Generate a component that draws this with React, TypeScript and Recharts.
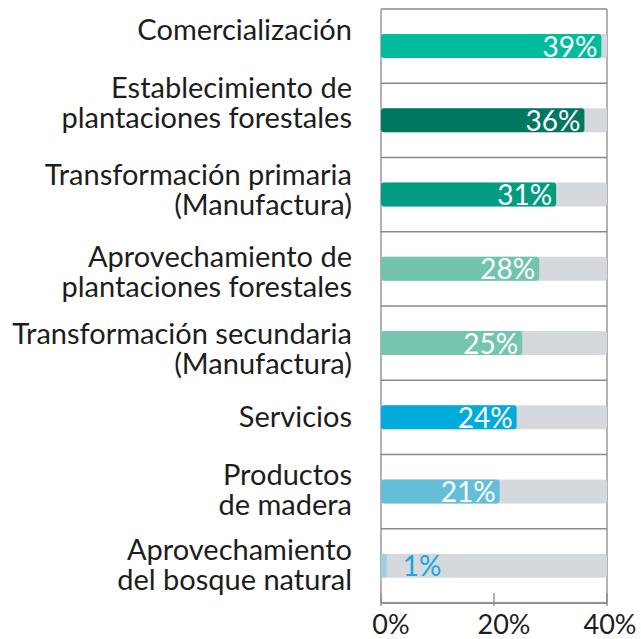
import React from 'react'
import { BarChart, Bar, XAxis, YAxis, CartesianGrid, Cell, LabelList } from 'recharts'

const CATEGORIES = [
  'Comercialización',
  'Establecimiento de\nplantaciones forestales',
  'Transformación primaria\n(Manufactura)',
  'Aprovechamiento de\nplantaciones forestales',
  'Transformación secundaria\n(Manufactura)',
  'Servicios',
  'Productos\nde madera',
  'Aprovechamiento\ndel bosque natural',
]
const SHARES = [39, 36, 31, 28, 25, 24, 21, 1]
const X_TICKS = [0, 20, 40]

const BAR_COLORS = ['#00BC9C', '#00775F', '#009C82', '#72C4AF', '#74C4AE', '#00AADB', '#64BEDA', '#9AD1E4']
// the labels in the original sit a little off the bar centres
const LABEL_NUDGE = [-16, -17, -5, 3, 6, 0, -2, -1]
const X_TICK_NUDGE = [10, 10, 3]

const GRID = '#8A8696'
const TEXT = '#1d1d1b'
const FONT = 'Lato, sans-serif'

const data = CATEGORIES.map((name, i) => ({ name, share: SHARES[i] }))

function CategoryTick(props: any) {
  const { x, y, payload, index } = props
  const lines = String(payload.value).split('\n')
  const mid = y + LABEL_NUDGE[index]
  return (
    <text textAnchor="end" fontSize={29} fill={TEXT} fontFamily={FONT}>
      {lines.map((line, i) => (
        <tspan key={i} x={x - 29} y={mid + (i - (lines.length - 1) / 2) * 30 + 10}>
          {line}
        </tspan>
      ))}
    </text>
  )
}

function PercentTick(props: any) {
  const { x, y, payload, index } = props
  return (
    <g>
      <line x1={x} x2={x} y1={y - 10} y2={y + 3} stroke={GRID} strokeWidth={1.3} />
      <text x={x + X_TICK_NUDGE[index]} y={y + 31} textAnchor="middle" fontSize={27} fill={TEXT} fontFamily={FONT}>
        {payload.value}%
      </text>
    </g>
  )
}

function ValueLabel(props: any) {
  const vb = props.viewBox ?? props
  const x = vb.x ?? props.x
  const y = vb.y ?? props.y
  const width = vb.width ?? props.width
  const height = vb.height ?? props.height
  const value = props.value
  const cy = y + height / 2 + 10.5
  if (value < 5) {
    return (
      <text x={x + width + 16} y={cy} fontSize={28} fill="#1AA7DA" fontFamily={FONT}>
        {value}%
      </text>
    )
  }
  return (
    <text x={x + width - 4} y={cy} textAnchor="end" fontSize={28} fill="#fff" fontFamily={FONT}>
      {value}%
    </text>
  )
}

export default function App() {
  const n = CATEGORIES.length
  return (
    <div style={{ position: 'absolute', left: 0, top: 0, background: '#fff' }}>
      <BarChart
        width={641}
        height={639}
        data={data}
        layout="vertical"
        margin={{ top: 9, right: 34, bottom: 0, left: 0 }}
      >
        <CartesianGrid
          stroke={GRID}
          strokeWidth={1.3}
          horizontalCoordinatesGenerator={({ offset }: any) =>
            Array.from({ length: n + 1 }, (_, i) => offset.top + (offset.height * i) / n)
          }
          verticalCoordinatesGenerator={({ offset }: any) => [offset.left, offset.left + offset.width]}
        />
        <XAxis
          type="number"
          domain={[0, 40]}
          ticks={X_TICKS}
          axisLine={{ stroke: GRID, strokeWidth: 1.3 }}
          tickLine={false}
          tickSize={0}
          tickMargin={0}
          tick={<PercentTick />}
          height={36}
        />
        <YAxis
          type="category"
          dataKey="name"
          width={381}
          interval={0}
          axisLine={false}
          tickLine={false}
          tickSize={0}
          tickMargin={0}
          tick={<CategoryTick />}
        />
        <Bar
          dataKey="share"
          barSize={24}
          radius={3}
          background={{ fill: '#D5D8DC', radius: 3 }}
          isAnimationActive={false}
        >
          {data.map((d, i) => (
            <Cell key={d.name} fill={BAR_COLORS[i]} />
          ))}
          <LabelList dataKey="share" content={<ValueLabel />} />
        </Bar>
      </BarChart>
    </div>
  )
}
